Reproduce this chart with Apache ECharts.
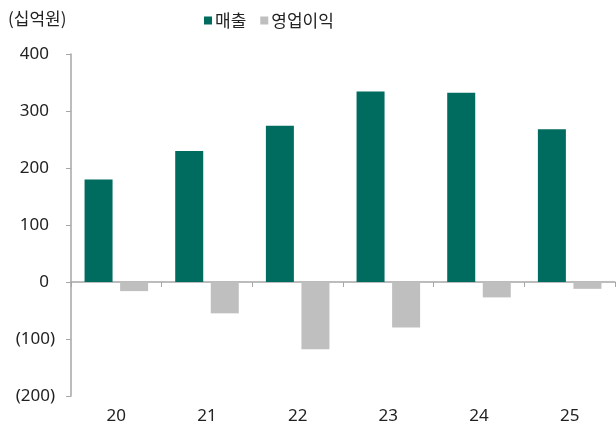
<!DOCTYPE html>
<html>
<head>
<meta charset="utf-8">
<script src="https://cdn.jsdelivr.net/npm/echarts@6/dist/echarts.min.js"></script>
<style>
  html, body { margin: 0; padding: 0; background: #fff; }
  #chart { width: 616px; height: 430px; }
</style>
</head>
<body>
<div id="chart"></div>
<script>
// 연도 (x축)
const years = ['20', '21', '22', '23', '24', '25'];
// 매출 (십억원)
const sales = [180, 230, 274, 334, 332, 268];
// 영업이익 (십억원)
const opProfit = [-16, -55, -118, -80, -27, -12];

const teal = '#006b5f';
const gray = '#bfbfbf';
const axisGray = '#a6a6a6';
const font = "'Noto Sans', 'Noto Sans CJK KR', sans-serif";

var myChart = echarts.init(document.getElementById('chart'));
var option = {
  backgroundColor: '#fff',
  textStyle: { fontFamily: font },
  title: {
    text: '(십억원)',
    left: 3,
    top: 5,
    textStyle: { fontSize: 17, fontWeight: 'normal', color: '#222', fontFamily: "'Noto Sans CJK KR', sans-serif" }
  },
  legend: {
    left: 199,
    top: 7,
    icon: 'rect',
    itemWidth: 8,
    itemHeight: 8,
    itemGap: 14,
    textStyle: { fontSize: 17, color: '#222', padding: [0, 0, 0, -2], fontFamily: "'Noto Sans CJK KR', sans-serif" },
    data: ['매출', '영업이익']
  },
  grid: { left: 71, right: 1, top: 54, bottom: 34 },
  xAxis: [
    {
      // 아래쪽 라벨만
      type: 'category',
      data: years,
      position: 'bottom',
      axisLine: { show: false, onZero: false },
      axisTick: { show: false },
      axisLabel: { fontSize: 17, color: '#222', margin: 12 }
    },
    {
      // 0 기준선과 눈금
      type: 'category',
      data: years,
      position: 'bottom',
      axisLine: { show: true, onZero: true, lineStyle: { color: axisGray, width: 1.5 } },
      axisTick: { show: true, length: 5, lineStyle: { color: axisGray } },
      axisLabel: { show: false }
    }
  ],
  yAxis: {
    type: 'value',
    min: -200,
    max: 400,
    interval: 100,
    axisLine: { show: true, lineStyle: { color: axisGray, width: 1.5 } },
    axisTick: { show: true, length: 5, lineStyle: { color: axisGray } },
    splitLine: { show: false },
    axisLabel: {
      fontSize: 17,
      color: '#222',
      margin: 16,
      formatter: function (v) {
        if (v < 0) return '(' + Math.abs(v) + ')';
        // 괄호 자리만큼 띄움
        return v + '{s| }';
      },
      rich: { s: { width: 6, fontSize: 17 } }
    }
  },
  series: [
    {
      name: '매출',
      type: 'bar',
      xAxisIndex: 0,
      data: sales,
      barWidth: 28,
      barGap: '27%',
      itemStyle: { color: teal }
    },
    {
      name: '영업이익',
      type: 'bar',
      xAxisIndex: 0,
      data: opProfit,
      barWidth: 28,
      itemStyle: { color: gray }
    }
  ]
};
option && myChart.setOption(option);
</script>
</body>
</html>
